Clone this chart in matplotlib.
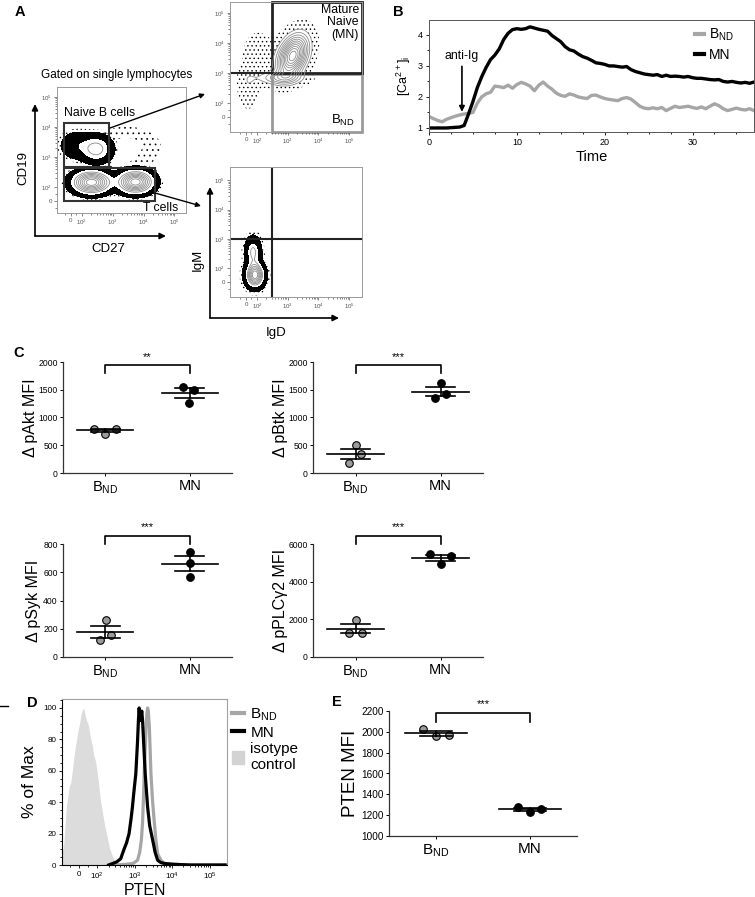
import numpy as np
import matplotlib
matplotlib.use("Agg")
import matplotlib.pyplot as plt
from matplotlib.patches import FancyArrowPatch, Rectangle, Patch
from matplotlib.lines import Line2D
from matplotlib.ticker import AutoMinorLocator, FixedLocator

plt.rcParams['font.family'] = ['Liberation Sans', 'DejaVu Sans']
plt.rcParams['mathtext.default'] = 'regular'
plt.rcParams['hatch.linewidth'] = 0.5

W, H = 755, 897
GROUPS = ['B$_{ND}$', 'MN']
GREY = '#a6a6a6'

# ---------------- panel A: flow populations (x, y, spread_x, spread_y [decades], rho, weight)
NAIVE_B_POP = [(295, 1830, 0.27, 0.24, 0.0, 1.0), (56, 2420, 0.30, 0.25, 0.0, 0.35)]
T_CELL_POP = [(204, 142, 0.36, 0.22, 0.0, 1.0), (5500, 146, 0.33, 0.22, 0.0, 1.0)]
CD19_SCATTER = [(2750, 2150, 0.5, 0.3, 0.0, 1.0), (1500, 500, 0.45, 0.25, 0.0, 0.6)]
IGD_IGM_POP = [(1450, 3700, 0.32, 0.45, 0.35, 1.0), (560, 680, 0.5, 0.15, 0.0, 0.3),
               (19, 400, 0.2, 0.45, 0.0, 0.12), (110, 5400, 0.3, 0.4, 0.0, 0.08)]
T_IGD_IGM_POP = [(82, 51, 0.18, 0.25, 0.0, 1.0), (64, 363, 0.15, 0.3, 0.0, 0.45)]
NAIVE_GATE = (-63, 465, 760, 13500)
T_GATE = (-63, 0, 24000, 430)
IGD_CUT, IGM_CUT = 310, 1000
FLOW_TICKS = [0, 1e2, 1e3, 1e4, 1e5]
FLOW_TICKLABELS = ['0', '$10^2$', '$10^3$', '$10^4$', '$10^5$']

# ---------------- panel B: calcium flux
CA_TIME = [0, 0.5, 1, 1.5, 2, 2.5, 3, 3.5, 4, 4.5, 5, 5.5, 6, 6.5, 7, 7.5, 8, 8.5, 9, 9.5,
           10, 10.5, 11, 11.5, 12, 12.5, 13, 13.5, 14, 14.5, 15, 15.5, 16, 16.5, 17, 17.5,
           18, 18.5, 19, 19.5, 20, 20.5, 21, 21.5, 22, 22.5, 23, 23.5, 24, 24.5, 25, 25.5,
           26, 26.5, 27, 27.5, 28, 28.5, 29, 29.5, 30, 30.5, 31, 31.5, 32, 32.5, 33, 33.5,
           34, 34.5, 35, 35.5, 36, 36.5, 37]
CA_MN = [1.00, 1.00, 1.00, 1.00, 1.00, 1.01, 1.02, 1.03, 1.08, 1.45,
         1.85, 2.30, 2.65, 2.95, 3.20, 3.35, 3.55, 3.85, 4.05, 4.17,
         4.20, 4.18, 4.20, 4.26, 4.22, 4.18, 4.15, 4.12, 3.98, 3.88,
         3.78, 3.62, 3.52, 3.48, 3.38, 3.30, 3.25, 3.18, 3.10, 3.08,
         3.05, 3.00, 3.00, 2.98, 2.96, 2.98, 2.88, 2.82, 2.78, 2.74,
         2.72, 2.70, 2.72, 2.66, 2.70, 2.66, 2.67, 2.66, 2.64, 2.66,
         2.62, 2.60, 2.60, 2.58, 2.56, 2.55, 2.56, 2.50, 2.48, 2.50,
         2.47, 2.45, 2.47, 2.44, 2.48]
CA_BND = [1.37, 1.30, 1.24, 1.20, 1.28, 1.33, 1.38, 1.42, 1.45, 1.47,
          1.50, 1.80, 2.00, 2.10, 2.15, 2.35, 2.33, 2.30, 2.38, 2.28,
          2.40, 2.47, 2.42, 2.35, 2.20, 2.38, 2.48, 2.35, 2.25, 2.12,
          2.05, 2.02, 2.10, 2.06, 2.00, 1.97, 1.95, 2.05, 2.06, 2.00,
          1.95, 1.92, 1.90, 1.88, 1.95, 1.98, 1.93, 1.82, 1.70, 1.64,
          1.62, 1.65, 1.62, 1.66, 1.56, 1.63, 1.70, 1.66, 1.68, 1.70,
          1.66, 1.63, 1.68, 1.62, 1.70, 1.78, 1.72, 1.62, 1.56, 1.60,
          1.64, 1.60, 1.58, 1.62, 1.56]

# ---------------- panel C: delta MFI per mouse
PAKT_BND, PAKT_MN = [800, 710, 790], [1550, 1261, 1502]
PBTK_BND, PBTK_MN = [180, 498, 348], [1351, 1622, 1417]
PSYK_BND, PSYK_MN = [123, 260, 154], [746, 667, 568]
PPLC_BND, PPLC_MN = [1280, 1990, 1260], [5467, 4935, 5361]

# ---------------- panel D: PTEN histograms
ISO_X = [-95, -86, -78, -70, -62, -55, -47, -38, -30, -22, -14, -6, 2, 10, 18, 24, 32, 40,
         48, 56, 64, 72, 80, 90, 98, 110, 121, 140, 160, 183, 210, 240, 276, 320, 360]
ISO_Y = [8, 12, 25, 38, 44, 50, 52, 60, 68, 75, 80, 86, 90, 96, 99, 100, 96, 92,
         90, 85, 80, 76, 70, 66, 60, 50, 41, 32, 24, 18, 11, 7, 4, 1, 0]
MN_X = [200, 260, 330, 420, 515, 600, 703, 800, 865, 960, 1064, 1180, 1250, 1309, 1380,
        1450, 1540, 1611, 1750, 1900, 2198, 2500, 2999, 3500, 4093, 5000, 6170, 10000,
        30000, 100000, 260000]
MN_Y = [0, 1, 2, 4, 10, 14, 20, 30, 37, 48, 58, 78, 92, 100, 92,
        95, 98, 92, 75, 58, 37, 25, 16, 8, 3, 1.5, 1, 0.5,
        0, 0, 0]
BND_X = [300, 600, 900, 1181, 1350, 1500, 1611, 1700, 1786, 1900, 2000, 2100, 2198, 2300,
         2450, 2704, 3000, 3327, 3700, 4093, 5000, 6170, 10000, 30000, 100000, 260000]
BND_Y = [0, 0.5, 1, 3, 8, 16, 27, 42, 58, 75, 88, 96, 100, 98,
         88, 58, 40, 27, 15, 7, 3, 1, 0.5, 0, 0, 0]

# ---------------- panel E: PTEN MFI
PTEN_BND, PTEN_MN = [2024, 1960, 1970], [1281, 1233, 1256]


def px_rect(r):
    x0, y0, x1, y1 = r
    return [x0 / W, 1 - y1 / H, (x1 - x0) / W, (y1 - y0) / H]


def fpos(x, y):
    return (x / W, 1 - y / H)


def u_to_data(t, u):
    return t.inverted().transform(np.atleast_1d(np.asarray(u, float)) * 100.0)


def data_to_u(t, x):
    return t.transform(np.atleast_1d(np.asarray(x, float))) / 100.0


fig = plt.figure(figsize=(W / 100, H / 100), dpi=100)


def flow_axes(rect, ux, uy, ls_x=0.324, ls_y=0.423):
    ax = fig.add_axes(px_rect(rect))
    ax.set_xscale('symlog', linthresh=100, linscale=ls_x)
    ax.set_yscale('symlog', linthresh=100, linscale=ls_y)
    ax.set_xlim(*u_to_data(ax.xaxis.get_transform(), ux))
    ax.set_ylim(*u_to_data(ax.yaxis.get_transform(), uy))
    minors = [-50, 50] + [k * 10 ** d for d in (2, 3, 4) for k in range(2, 10)]
    for axis in (ax.xaxis, ax.yaxis):
        axis.set_major_locator(FixedLocator(FLOW_TICKS))
        axis.set_minor_locator(FixedLocator(minors))
    ax.set_xticklabels(FLOW_TICKLABELS)
    ax.set_yticklabels(FLOW_TICKLABELS)
    ax.tick_params(which='both', labelsize=4.4, length=2, width=0.5, pad=1.5,
                   colors='#555555')
    ax.tick_params(which='minor', length=1.2)
    for s in ax.spines.values():
        s.set_color('#9a9a9a')
        s.set_linewidth(0.7)
    return ax


def draw_pops(ax, pops, hatch=None, black=None, white=None, lines=(), dots='....'):
    tx, ty = ax.xaxis.get_transform(), ax.yaxis.get_transform()
    ux = data_to_u(tx, ax.get_xlim())
    uy = data_to_u(ty, ax.get_ylim())
    U, V = np.meshgrid(np.linspace(ux[0], ux[1], 320), np.linspace(uy[0], uy[1], 320))
    Z = np.zeros_like(U)
    for x, y, sx, sy, rho, w in pops:
        a = (U - data_to_u(tx, x)[0]) / sx
        b = (V - data_to_u(ty, y)[0]) / sy
        Z += w * np.exp(-(a * a - 2 * rho * a * b + b * b) / (2 * (1 - rho * rho)))
    X = u_to_data(tx, U.ravel()).reshape(U.shape)
    Y = u_to_data(ty, V.ravel()).reshape(V.shape)
    if hatch:
        ax.contourf(X, Y, Z, levels=list(hatch), colors='none', hatches=[dots])
    if black:
        ax.contourf(X, Y, Z, levels=list(black), colors='black')
    if white:
        ax.contourf(X, Y, Z, levels=[white, Z.max() + 1], colors='white')
    if len(lines):
        ax.contour(X, Y, Z, levels=list(lines), colors='#8c8c8c', linewidths=0.6)


def fig_arrow(p0, p1, lw=1.2, ms=9):
    fig.add_artist(FancyArrowPatch(fpos(*p0), fpos(*p1), transform=fig.transFigure,
                                   arrowstyle='-|>', mutation_scale=ms, lw=lw, color='k',
                                   shrinkA=0, shrinkB=0))


# ================= Panel A
fig.text(*fpos(15, 12), 'A', fontsize=10.5, fontweight='bold', va='center')
fig.text(*fpos(117, 75), 'Gated on single lymphocytes', fontsize=8.5, ha='center', va='center')

ax = flow_axes((57, 87, 186, 213), (-0.45, 3.74), (-0.4, 3.8))
draw_pops(ax, CD19_SCATTER, hatch=(0.08, 0.6), dots='...')
draw_pops(ax, NAIVE_B_POP, hatch=(0.03, 0.08), black=(0.08, 0.45), white=0.45, lines=[0.75])
draw_pops(ax, T_CELL_POP, hatch=(0.025, 0.05), black=(0.05, 0.2), white=0.2,
          lines=[0.3, 0.4, 0.5, 0.6, 0.7, 0.8, 0.9])
x0, y0, x1, y1 = NAIVE_GATE
ax.add_patch(Rectangle((x0, y0), x1 - x0, y1 - y0, fill=False, ec='#333333', lw=1.5))
x0, y0, x1, y1 = T_GATE
ax.add_patch(Rectangle((x0, y0), x1 - x0, y1 - y0, fill=False, ec='#333333', lw=1.5))
fig.text(*fpos(64, 113), 'Naive B cells', fontsize=8.8, va='center')
fig.text(*fpos(178, 208), 'T cells', fontsize=8.8, va='center', ha='right')
fig_arrow((35, 236), (35, 104))
fig_arrow((35, 236), (166, 236))
fig.text(*fpos(23, 168), 'CD19', fontsize=9.5, rotation=90, ha='center', va='center')
fig.text(*fpos(108, 249), 'CD27', fontsize=9.5, ha='center', va='center')
fig_arrow((110, 128), (205, 94), lw=1.0, ms=7)
fig_arrow((155, 193), (201, 206), lw=1.0, ms=7)

# IgD / IgM of naive B cells
ax = flow_axes((230, 2, 362, 132), (-0.52, 3.78), (-0.5, 3.84))
draw_pops(ax, IGD_IGM_POP, hatch=(0.025, 0.14),
          lines=[0.14, 0.22, 0.3, 0.38, 0.46, 0.54, 0.62, 0.7, 0.78, 0.86, 0.94])
xl, xr = ax.get_xlim()
yb, yt = ax.get_ylim()
ax.add_patch(Rectangle((IGD_CUT, yb), xr - IGD_CUT, 0.9 * IGM_CUT - yb, fill=False,
                       ec='#9a9a9a', lw=2, clip_on=False))
ax.add_patch(Rectangle((IGD_CUT, IGM_CUT), xr - IGD_CUT, yt - IGM_CUT, fill=False,
                       ec='#222222', lw=2, clip_on=False))
ax.plot([xl, IGD_CUT], [IGM_CUT, IGM_CUT], color='#222222', lw=1.5)
fig.text(*fpos(359, 4), 'Mature\nNaive\n(MN)', fontsize=8.8, ha='right', va='top',
         linespacing=1.05)
fig.text(*fpos(355, 120), GROUPS[0], fontsize=9.5, ha='right', va='center')

# IgD / IgM of T cells
ax = flow_axes((230, 167, 362, 297), (-0.52, 3.78), (-0.51, 3.93))
draw_pops(ax, T_IGD_IGM_POP, hatch=(0.02, 0.07), black=(0.07, 0.3), white=0.3,
          lines=[0.4, 0.5, 0.6, 0.7, 0.8, 0.9])
ax.axvline(IGD_CUT, color='#222222', lw=1.5)
ax.axhline(IGM_CUT, color='#222222', lw=1.5)
fig_arrow((210, 318), (210, 187))
fig_arrow((210, 318), (339, 318))
fig.text(*fpos(198, 260), 'IgM', fontsize=9.5, rotation=90, ha='center', va='center')
fig.text(*fpos(276, 333), 'IgD', fontsize=9.5, ha='center', va='center')

# ================= Panel B
fig.text(*fpos(393, 12), 'B', fontsize=10.5, fontweight='bold', va='center')
ax = fig.add_axes(px_rect((429, 20, 754, 132)))
ax.plot(CA_TIME, CA_BND, color=GREY, lw=2.4, label=GROUPS[0])
ax.plot(CA_TIME, CA_MN, color='black', lw=2.4, label=GROUPS[1])
ax.set_xlim(0, 37)
ax.set_ylim(0.87, 4.48)
ax.set_xticks([0, 10, 20, 30])
ax.set_yticks([1, 2, 3, 4])
ax.xaxis.set_minor_locator(AutoMinorLocator(4))
ax.yaxis.set_minor_locator(AutoMinorLocator(2))
ax.tick_params(which='both', labelsize=6.5, length=2.5, width=0.6, pad=2)
ax.tick_params(which='minor', length=1.5)
for s in ax.spines.values():
    s.set_linewidth(0.7)
    s.set_color('#555555')
ax.set_xlabel('Time', fontsize=10.5, labelpad=2)
ax.set_ylabel('[Ca$^{2+}$]$_i$', fontsize=9)
ax.yaxis.set_label_coords(-0.05, 0.5)
ax.annotate('anti-Ig', xy=(3.75, 1.52), xytext=(3.75, 3.12), fontsize=8.8, ha='center',
            va='bottom', arrowprops=dict(arrowstyle='-|>', lw=1.2, color='k',
                                         mutation_scale=8, shrinkA=1, shrinkB=0))
leg = ax.legend(loc='upper right', bbox_to_anchor=(0.96, 1.0), frameon=False, fontsize=10,
                handlelength=0.7, handletextpad=0.35, labelspacing=0.3, borderpad=0)
for ln in leg.get_lines():
    ln.set_linewidth(3)

# ================= Panel C
fig.text(*fpos(13, 353), 'C', fontsize=10.5, fontweight='bold', va='center')


def dot_panel(rect, bnd, mn, dx_bnd, dx_mn, ymax, yticks, ylabel, stars, top, lab_x,
              ymin=0, tick_size=6.2, cat_size=10.5, lab_size=11.5):
    ax = fig.add_axes(px_rect(rect))
    for i, (vals, dx, fc) in enumerate([(bnd, dx_bnd, '#9b9b9b'), (mn, dx_mn, 'black')]):
        ax.scatter(i + np.asarray(dx), vals, s=30, facecolor=fc, edgecolor='black', lw=0.8,
                   zorder=3, clip_on=False)
        m = np.mean(vals)
        sem = np.std(vals, ddof=1) / np.sqrt(len(vals))
        ax.plot([i - 0.33, i + 0.33], [m, m], color='black', lw=1.2, zorder=4)
        for e in (m - sem, m + sem):
            ax.plot([i - 0.17, i + 0.17], [e, e], color='black', lw=1.2, zorder=4)
        ax.plot([i, i], [m - sem, m + sem], color='black', lw=1.2, zorder=4)
    span = ymax - ymin
    ax.plot([0, 0, 1, 1], [top - 0.075 * span, top, top, top - 0.075 * span], color='black',
            lw=1.2, clip_on=False)
    ax.text(0.5, top + 0.03 * span, stars, ha='center', va='bottom', fontsize=8)
    ax.set_xlim(-0.5, 1.5)
    ax.set_ylim(ymin, ymax)
    ax.set_xticks([0, 1])
    ax.set_xticklabels(GROUPS, fontsize=cat_size)
    ax.set_yticks(yticks)
    ax.tick_params(axis='y', labelsize=tick_size, length=2.5, width=0.7, pad=1.2)
    ax.tick_params(axis='x', length=2.5, width=0.7, pad=2)
    for s in ('top', 'right'):
        ax.spines[s].set_visible(False)
    for s in ('left', 'bottom'):
        ax.spines[s].set_linewidth(0.9)
        ax.spines[s].set_color('#333333')
    ax.set_ylabel(ylabel, fontsize=lab_size)
    ax.yaxis.set_label_coords(lab_x, 0.5)
    return ax


dot_panel((63, 362, 232, 473), PAKT_BND, PAKT_MN, [-0.13, 0, 0.13], [-0.08, -0.01, 0.05],
          2000, [0, 500, 1000, 1500, 2000], '\u0394 pAkt MFI', '**', 1946, -0.145)
dot_panel((313, 362, 483, 473), PBTK_BND, PBTK_MN, [-0.08, 0, 0.07], [-0.06, 0, 0.07],
          2000, [0, 500, 1000, 1500, 2000], '\u0394 pBtk MFI', '***', 1946, -0.145)
dot_panel((63, 544, 232, 657), PSYK_BND, PSYK_MN, [-0.06, 0.01, 0.07], [0, 0, 0],
          800, [0, 200, 400, 600, 800], '\u0394 pSyk MFI', '***', 857, -0.13)
dot_panel((313, 544, 483, 657), PPLC_BND, PPLC_MN, [-0.08, 0, 0.08], [-0.12, 0, 0.12],
          6000, [0, 2000, 4000, 6000], '\u0394 pPLC\u03b32 MFI', '***', 6428, -0.145)

# ================= Panel D
fig.add_artist(Line2D([0, 8 / W], [1 - 706 / H] * 2, color='black', lw=1))
fig.text(*fpos(27, 703), 'D', fontsize=10.5, fontweight='bold', va='center')
ax = fig.add_axes(px_rect((62, 699, 227, 865)))
ax.set_xscale('symlog', linthresh=100, linscale=0.437)
ax.set_xlim(*u_to_data(ax.xaxis.get_transform(), (-0.46, 3.95)))
ax.fill_between(ISO_X, ISO_Y, 0, color='#dcdcdc', lw=0)
ax.plot(BND_X, BND_Y, color=GREY, lw=2.3)
ax.plot(MN_X, MN_Y, color='black', lw=2.3)
ax.set_ylim(0, 105.7)
ax.set_yticks([0, 20, 40, 60, 80, 100])
ax.yaxis.set_minor_locator(AutoMinorLocator(4))
ax.xaxis.set_major_locator(FixedLocator(FLOW_TICKS))
ax.xaxis.set_minor_locator(FixedLocator([-50, 50] + [k * 10 ** d for d in (2, 3, 4)
                                                       for k in range(2, 10)]))
ax.set_xticklabels(FLOW_TICKLABELS)
ax.tick_params(which='both', labelsize=5.8, length=2.5, width=0.6, pad=1.5)
ax.tick_params(which='minor', length=1.5)
for s in ('top', 'right'):
    ax.spines[s].set_color('#a0a0a0')
for s in ax.spines.values():
    s.set_linewidth(0.8)
ax.set_xlabel('PTEN', fontsize=11.5, labelpad=1)
ax.set_ylabel('% of Max', fontsize=12.5)
ax.yaxis.set_label_coords(-0.15, 0.5)
handles = [Line2D([], [], color=GREY, lw=3), Line2D([], [], color='black', lw=3),
           Patch(color='#d3d3d3')]
ax.legend(handles, [GROUPS[0], 'MN', 'isotype\ncontrol'], loc='upper left',
          bbox_to_anchor=(1.03, 0.955), frameon=False, fontsize=11, handlelength=0.8,
          handleheight=0.9, handletextpad=0.4, labelspacing=0.15, borderpad=0,
          borderaxespad=0)

# ================= Panel E
fig.text(*fpos(332, 702), 'E', fontsize=10.5, fontweight='bold', va='center')
dot_panel((389, 711, 577, 836), PTEN_BND, PTEN_MN, [-0.14, 0, 0.14], [-0.13, 0, 0.12],
          2200, [1000, 1200, 1400, 1600, 1800, 2000, 2200], 'PTEN MFI', '***', 2181,
          -0.16, ymin=1000, tick_size=7.2, cat_size=11, lab_size=13.5)

fig.savefig('out.png', dpi=100)
